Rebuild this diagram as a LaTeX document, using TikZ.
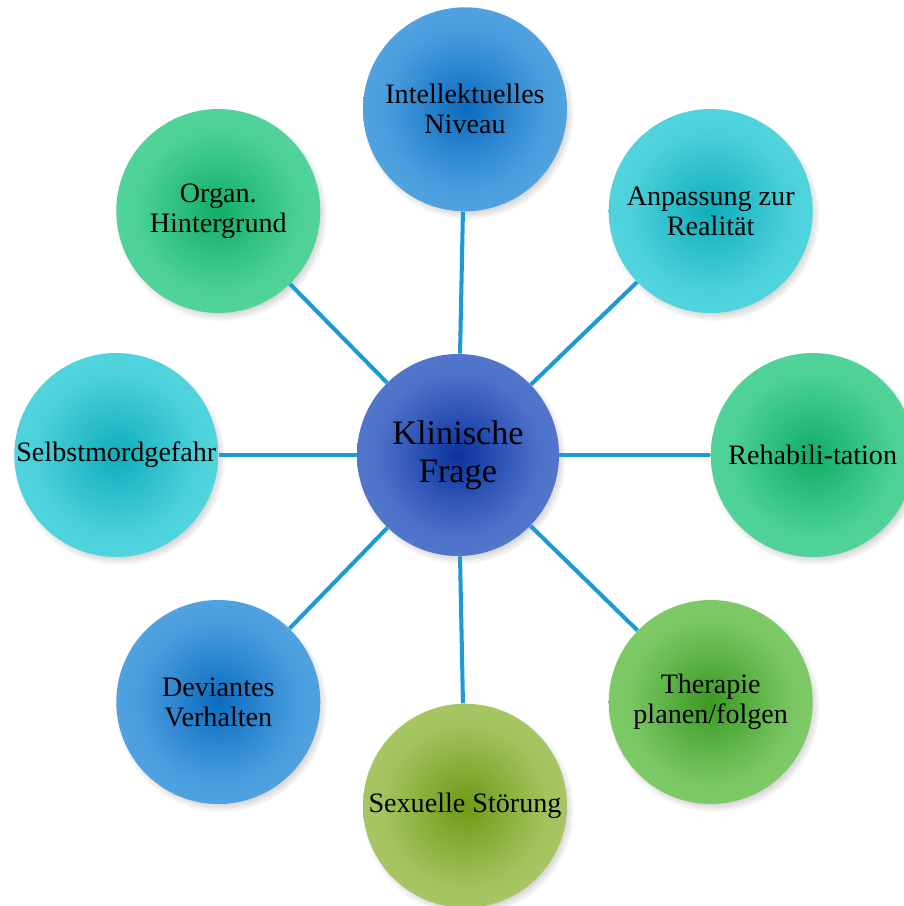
\documentclass[tikz,border=0pt]{standalone}
\usepackage{fontspec}
\setmainfont{Liberation Serif}
\usepackage{xcolor}
\usepackage{tikz}
\usetikzlibrary{positioning, shadows, fadings}

\definecolor{LinkBlue}{HTML}{1A9AD6}
\definecolor{HubIn}{HTML}{0A32A0}
\definecolor{HubOut}{HTML}{6A8CDA}
\definecolor{BlueIn}{HTML}{0B6CC0}
\definecolor{BlueOut}{HTML}{66B3EA}
\definecolor{CyanIn}{HTML}{0EAEBC}
\definecolor{CyanOut}{HTML}{66E0E8}
\definecolor{GreenIn}{HTML}{10AE66}
\definecolor{GreenOut}{HTML}{66DFAA}
\definecolor{LimeIn}{HTML}{3A9A22}
\definecolor{LimeOut}{HTML}{94D97E}
\definecolor{OliveIn}{HTML}{6E9A14}
\definecolor{OliveOut}{HTML}{B9D47E}

\newcommand{\orbshading}[3]{%
	\colorlet{#1mid}{#2!30!#3}%
	\pgfdeclareradialshading{#1}{\pgfpointorigin}{color(0bp)=(#2); color(20bp)=(#1mid); color(50bp)=(#3)}}
\orbshading{orbhub}{HubIn}{HubOut}
\orbshading{orbblue}{BlueIn}{BlueOut}
\orbshading{orbcyan}{CyanIn}{CyanOut}
\orbshading{orbgreen}{GreenIn}{GreenOut}
\orbshading{orblime}{LimeIn}{LimeOut}
\orbshading{orbolive}{OliveIn}{OliveOut}

\tikzset{
	every node/.style={
		align=center,
	},
	orb/.style={
		circle, shade, minimum size=4.08cm, inner sep=0pt,
		font=\fontsize{16}{17}\selectfont,
		circular drop shadow={shadow scale=1.04, shadow xshift=1.5pt, shadow yshift=-2.2pt, opacity=0.55},
	},
	hub/.style={
		minimum size=4.04cm, font=\fontsize{19.5}{21.5}\selectfont,
	},
	link/.style={draw=LinkBlue, line width=2.3pt},
}

\begin{document}
\begin{tikzpicture}
	\fill[white] (0,0) rectangle (18.06,-18.12);
	\useasboundingbox (0,0) rectangle (18.06,-18.12);
	\node[orb, hub, shading=orbhub] (klinik) at (9.16,-9.10) {Klinische\\Frage};
	\node[orb, shading=orbblue, above=2.84cm of klinik, xshift=0.14cm] (niveau) {Intellektuelles\\Niveau};
	\node[orb, shading=orbcyan, right=0.98cm of klinik, yshift=4.88cm] (realitaet) {Anpassung zur\\Realität};
	\node[orb, shading=orbgreen, right=3.02cm of klinik] (reha) {Rehabili-tation};
	\node[orb, shading=orblime, right=0.98cm of klinik, yshift=-4.94cm] (therapie) {Therapie\\planen/folgen};
	\node[orb, shading=orbolive, below=2.94cm of klinik, xshift=0.14cm] (stoerung) {Sexuelle Störung};
	\node[orb, shading=orbblue, left=0.72cm of klinik, yshift=-4.94cm] (verhalten) {Deviantes\\Verhalten};
	\node[orb, shading=orbcyan, left=2.76cm of klinik] (suizid) {Selbstmordgefahr};
	\node[orb, shading=orbgreen, left=0.72cm of klinik, yshift=4.88cm] (organ) {Organ.\\Hintergrund};
	\foreach \n in {niveau, realitaet, reha, therapie, stoerung, verhalten, suizid, organ}
		\draw[link] (klinik) -- (\n);
\end{tikzpicture}
\end{document}
